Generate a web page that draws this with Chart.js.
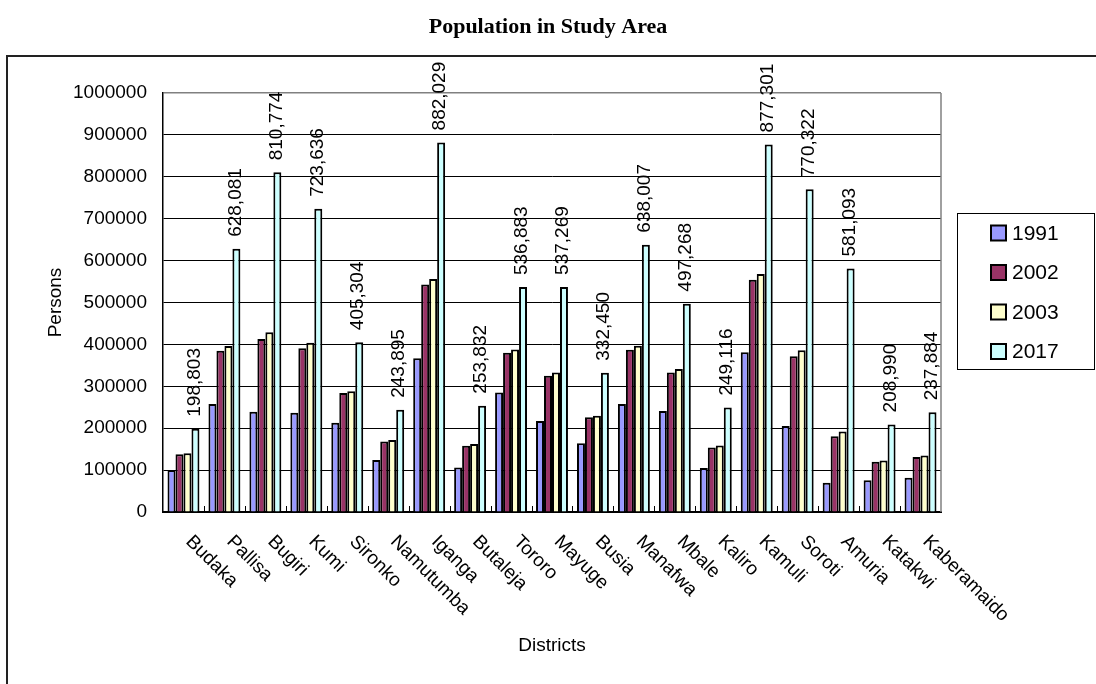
<!DOCTYPE html>
<html><head><meta charset="utf-8">
<script src="https://cdn.jsdelivr.net/npm/chart.js@4.4.0/dist/chart.umd.min.js"></script>
<style>html,body{margin:0;padding:0;background:#fff;overflow:hidden;} #wrap{width:1096px;height:684px;position:relative;}</style>
</head><body><div id="wrap"><canvas id="c" width="1096" height="684"></canvas></div>
<script>
const chartTitle = 'Population in Study Area';
const districts = ['Budaka','Pallisa','Bugiri','Kumi','Sironko','Namutumba','Iganga','Butaleja','Tororo','Mayuge','Busia','Manafwa','Mbale','Kaliro','Kamuli','Soroti','Amuria','Katakwi','Kaberamaido'];
const seriesLabels = ['1991','2002','2003','2017'];
const pop1991 = [100000,258000,239000,237000,213000,124000,367000,106000,285000,217000,164000,258000,241000,105000,381000,205000,70000,76000,82000];
const pop2002 = [138000,385000,413000,391000,284000,168000,543000,158000,380000,325000,226000,387000,333000,154000,554000,372000,181000,120000,131000];
const pop2003 = [140000,396000,429000,404000,288000,172000,556000,162000,388000,333000,230000,397000,341000,159000,568000,386000,192000,123000,135000];
const pop2017 = [198803,628081,810774,723636,405304,243895,882029,253832,536883,537269,332450,638007,497268,249116,877301,770322,581093,208990,237884];
const yTicks = [0,100000,200000,300000,400000,500000,600000,700000,800000,900000,1000000];
const seriesColors = ['#9999FF','#993366','#FFFFCC','#CCFFFF'];

const FONT = '"Liberation Sans", Arial, sans-serif';

const decor = {
  id: 'decor',
  beforeDraw(chart) {
    const ctx = chart.ctx;
    ctx.save();
    ctx.fillStyle = '#fff';
    ctx.fillRect(0, 0, chart.width, chart.height);
    ctx.restore();
  },
  afterDraw(chart) {
    const {ctx, chartArea: a, scales: {x}} = chart;
    ctx.save();
    // title
    ctx.fillStyle = '#000';
    ctx.font = 'bold 22px "Liberation Serif", "Times New Roman", serif';
    ctx.textAlign = 'center'; ctx.textBaseline = 'middle';
    ctx.fillText(chartTitle, 548, 27);
    // outer frame
    ctx.strokeStyle = '#222'; ctx.lineWidth = 2;
    ctx.strokeRect(7, 56, 1300, 900);
    // plot right border
    ctx.strokeStyle = '#808080'; ctx.lineWidth = 1.5;
    ctx.beginPath(); ctx.moveTo(a.right, a.top); ctx.lineTo(a.right, a.bottom); ctx.stroke();
    // inner category tick marks
    ctx.strokeStyle = '#000'; ctx.lineWidth = 1;
    const step = (a.right - a.left) / districts.length;
    for (let i = 1; i < districts.length; i++) {
      const px = Math.round(a.left + i * step) + 0.5;
      ctx.beginPath(); ctx.moveTo(px, a.bottom); ctx.lineTo(px, a.bottom - 6); ctx.stroke();
    }
    // data labels for 2017
    ctx.fillStyle = '#000';
    ctx.font = '19px ' + FONT;
    const meta = chart.getDatasetMeta(3);
    meta.data.forEach((bar, i) => {
      ctx.save();
      ctx.translate(bar.x - 1, bar.y - 12);
      ctx.rotate(-Math.PI / 2);
      ctx.textAlign = 'left'; ctx.textBaseline = 'middle';
      ctx.fillText(pop2017[i].toLocaleString('en-US'), 0, 0);
      ctx.restore();
    });
    // category labels rotated 45deg
    districts.forEach((d, i) => {
      const px = x.getPixelForValue(i);
      ctx.save();
      ctx.translate(px + 12, a.bottom + 20);
      ctx.rotate(Math.PI / 4);
      ctx.textAlign = 'left'; ctx.textBaseline = 'top';
      ctx.fillText(d, 0, 0);
      ctx.restore();
    });
    // legend
    ctx.strokeStyle = '#000'; ctx.lineWidth = 1;
    ctx.strokeRect(957.5, 213.5, 137, 156);
    ctx.font = '21px ' + FONT;
    seriesLabels.forEach((s, k) => {
      const cy = 233 + k * 39.5;
      ctx.fillStyle = seriesColors[k];
      ctx.fillRect(991, cy - 7.5, 15, 15);
      ctx.lineWidth = 2; ctx.strokeStyle = '#000';
      ctx.strokeRect(991, cy - 7.5, 15, 15);
      ctx.fillStyle = '#000';
      ctx.textAlign = 'left'; ctx.textBaseline = 'middle';
      ctx.fillText(s, 1012, cy + 1);
    });
    ctx.restore();
  }
};

const seriesData = [pop1991, pop2002, pop2003, pop2017];

new Chart(document.getElementById('c'), {
  type: 'bar',
  data: {
    labels: districts,
    datasets: seriesLabels.map((s, k) => ({
      label: s,
      data: seriesData[k],
      backgroundColor: seriesColors[k],
      borderColor: '#000',
      borderWidth: 2,
      borderSkipped: 'bottom',
      barPercentage: 1.0,
      categoryPercentage: 0.78
    }))
  },
  options: {
    responsive: false,
    animation: false,
    devicePixelRatio: 1,
    layout: {padding: {left: 0, right: 155, top: 93, bottom: 26.6}},
    plugins: {
      legend: {display: false},
      tooltip: {enabled: false},
      title: {display: false}
    },
    scales: {
      x: {
        ticks: {display: false},
        grid: {display: false, drawTicks: false},
        border: {display: true, color: '#000', width: 2},
        title: {display: true, text: 'Districts', color: '#000', font: {family: FONT, size: 19}, padding: {top: 122.6, bottom: 0}}
      },
      y: {
        min: 0, max: 1000000,
        afterBuildTicks: s => { s.ticks = yTicks.map(v => ({value: v})); },
        afterFit: s => { s.width = 163; },
        ticks: {padding: 16, color: '#000', font: {family: FONT, size: 19}, callback: v => String(v)},
        grid: {drawTicks: false, color: c => (c.tick && c.tick.value === 1000000) ? '#808080' : '#000', lineWidth: c => (c.tick && c.tick.value === 1000000) ? 1.5 : 1},
        border: {display: true, color: '#000', width: 1.5},
        title: {display: true, text: 'Persons', color: '#000', font: {family: FONT, size: 19}, padding: {top: 44, bottom: 0}}
      }
    }
  },
  plugins: [decor]
});
</script>
</body></html>
